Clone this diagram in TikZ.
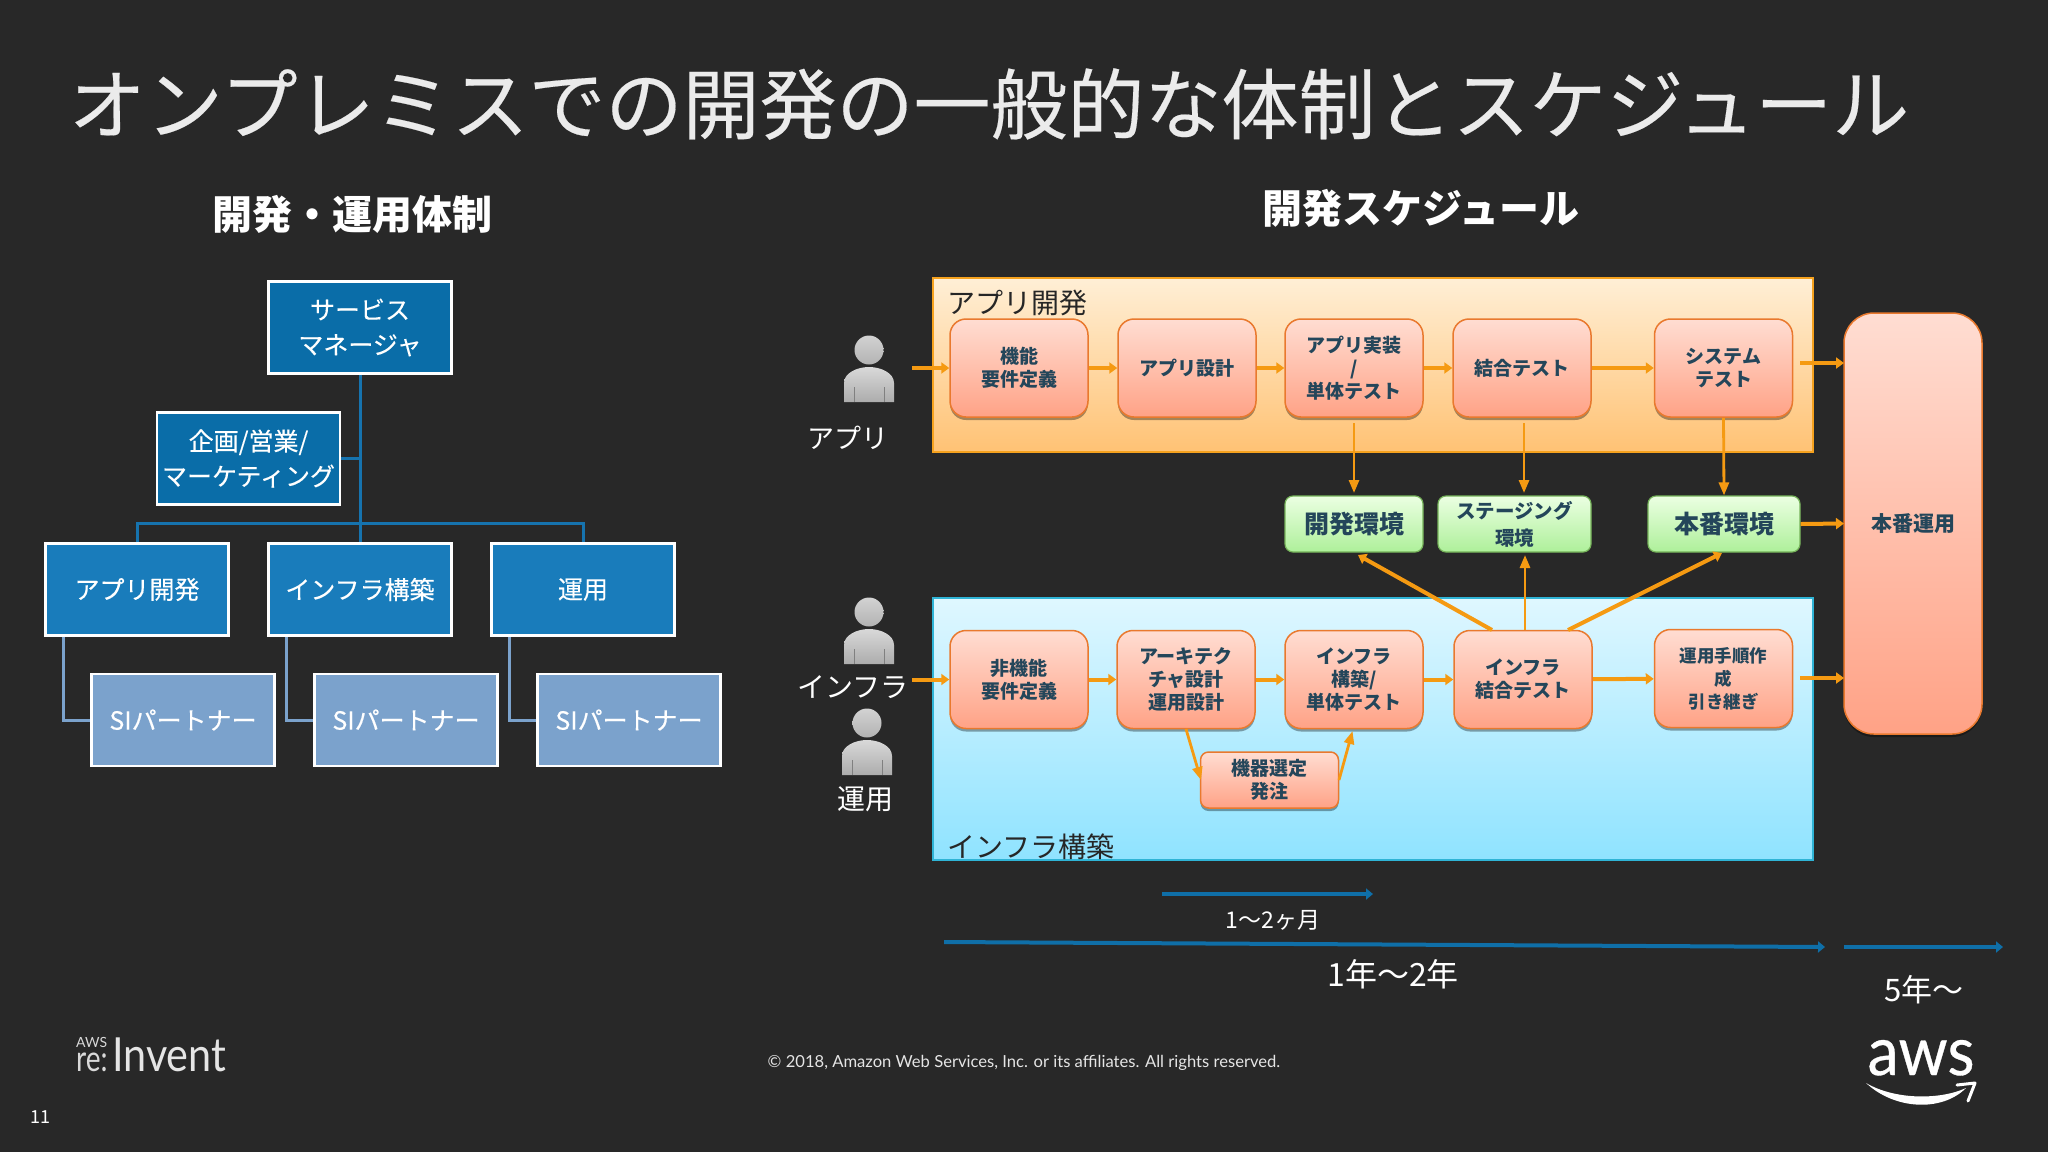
\documentclass[tikz,border=0pt]{standalone}
\usepackage{fontspec}
\usepackage{xcolor}
\setmainfont{Noto Sans CJK JP}
\newfontfamily\heavyfont[FakeBold=0.25]{Noto Sans CJK JP}
\newfontfamily\logofont{Lato}
\newfontfamily\logonarrow[FakeStretch=0.88]{Lato}
\newfontfamily\logoslim[FakeStretch=0.78]{Lato}
\newfontfamily\logoheavy[FakeStretch=0.92,FakeBold=0.5]{Lato}
\usetikzlibrary{arrows.meta,shadows}

\definecolor{slidebg}{HTML}{282828}
\definecolor{txtdark}{HTML}{24465A}
\definecolor{flow}{HTML}{F59A12}
\definecolor{timeblue}{HTML}{0F6FA8}
\definecolor{linkblue}{HTML}{1673AE}
\definecolor{linksi}{HTML}{7BA2CC}
\definecolor{orgtop}{HTML}{0A6DA8}
\definecolor{orgmid}{HTML}{197CBB}
\definecolor{stepline}{HTML}{E9792E}
\definecolor{steptop}{HTML}{FFDDD2}
\definecolor{stepend}{HTML}{FFA286}
\definecolor{appline}{HTML}{F6A21E}
\definecolor{apptop}{HTML}{FFEFD6}
\definecolor{append}{HTML}{FFC274}
\definecolor{infraline}{HTML}{2FB4D6}
\definecolor{infratop}{HTML}{DFF7FF}
\definecolor{infraend}{HTML}{8FE3FF}
\definecolor{envline}{HTML}{76B35A}
\definecolor{envtop}{HTML}{EBFFE2}
\definecolor{envend}{HTML}{AEF09A}

\tikzset{
	orgbox/.style={draw=white,line width=2.6pt,minimum width=183pt,minimum height=92pt,text=white,align=center,inner sep=0pt,font=\fontsize{25}{35}\selectfont\heavyfont},
	topbox/.style={orgbox,fill=#1},
	stepbox/.style={draw=stepline,line width=1.5pt,rounded corners=16pt,minimum width=138pt,minimum height=98pt,text=txtdark,align=center,inner sep=0pt,
		top color=steptop,bottom color=stepend,
		drop shadow={shadow xshift=0pt,shadow yshift=-3pt,fill=black,opacity=0.35},
		execute at begin node={\vspace*{4pt}},
		font=\fontsize{19}{23}\selectfont\bfseries},
	envbox/.style={draw=envline,line width=1.2pt,rounded corners=8pt,minimum height=56pt,text=txtdark,align=center,inner sep=0pt,
		top color=envtop,bottom color=envend,
		font=\fontsize{25}{30}\selectfont\bfseries},
	panel/.style 2 args={draw=#1,line width=1.5pt,minimum width=880pt,inner sep=0pt},
	thickflow/.style={draw=flow,line width=4pt,-{Triangle[length=8pt,width=11pt]}},
	thinflow/.style={draw=flow,line width=2.8pt,-{Triangle[length=13pt,width=10pt]}},
	timeline/.style={draw=timeblue,line width=4pt,-{Triangle[length=7pt,width=11pt]}},
	orglink/.style={draw=linkblue,line width=3pt},
	silink/.style={draw=linksi,line width=3pt},
	person/.pic={
		\shade[top color=gray!35!white,bottom color=gray!60!white] (0,15) circle[radius=14.5];
		\shade[top color=gray!30!white,bottom color=gray!65!white] (-25,67) -- (-25,48) .. controls (-25,38) and (-12,32) .. (0,32) .. controls (12,32) and (25,38) .. (25,48) -- (25,67) -- cycle;
		\draw[gray,line width=0.6pt] (-15,52) -- (-15,67);
		\draw[gray,line width=0.6pt] (15,52) -- (15,67);
	}
}

\begin{document}
\begin{tikzpicture}[x=1pt,y=-1pt]
	\useasboundingbox (0,0) rectangle (2048,1152);
	\fill[slidebg] (0,0) rectangle (2048,1152);

	% Headings
	\node[text=white!92!black,font=\fontsize{77}{80}\selectfont\heavyfont] (title) at (989,104) {オンプレミスでの開発の一般的な体制とスケジュール};
	\node[text=white,font=\fontsize{40}{44}\selectfont\bfseries] (orgtitle) at (352,214) {開発・運用体制};
	\node[text=white,font=\fontsize{40}{44}\selectfont\bfseries] (schedtitle) at (1421,208) {開発スケジュール};

	% Organisation chart
	\coordinate (bus) at (360,523);
	\coordinate (kink) at (360,458.5);
	\coordinate (siaup) at (63.5,637);
	\coordinate (sibup) at (286,637);
	\coordinate (sicup) at (509,637);
	\node[topbox=orgtop] (manager) at (360,327.5) {サービス\\マネージャ};
	\node[topbox=orgtop] (planning) at (248.5,458.5) {企画/営業/\\マーケティング};
	\node[topbox=orgmid] (appdev) at (137,589.5) {アプリ開発};
	\node[topbox=orgmid] (infra) at (360,589.5) {インフラ構築};
	\node[topbox=orgmid] (ops) at (583,589.5) {運用};
	\node[topbox=linksi] (sia) at (183,720) {SIパートナー};
	\node[topbox=linksi] (sib) at (406,720) {SIパートナー};
	\node[topbox=linksi] (sic) at (629,720) {SIパートナー};
	\path[orglink] (manager) -- (infra);
	\path[orglink] (planning.east) -- (kink);
	\path[orglink] (appdev.north) |- (bus) -| (ops.north);
	\path[silink] (siaup) |- (sia.west);
	\path[silink] (sibup) |- (sib.west);
	\path[silink] (sicup) |- (sic.west);

	% Schedule panels
	\node[panel={appline}{},top color=apptop,bottom color=append,minimum height=174pt] (apppanel) at (1373,365) {};
	\node[panel={infraline}{},top color=infratop,bottom color=infraend,minimum height=262pt] (infrapanel) at (1373,729) {};
	\node[anchor=west,text=black!85,font=\fontsize{28}{32}\selectfont] (applabel) at (944,303) {アプリ開発};
	\node[anchor=west,text=black!85,font=\fontsize{28}{32}\selectfont] (infralabel) at (944,847) {インフラ構築};

	% People
	\pic at (869,335) {person};
	\pic at (869,597) {person};
	\pic at (867,708) {person};
	\node[text=white,font=\fontsize{27}{30}\selectfont] (appman) at (848,438) {アプリ};
	\node[text=white,font=\fontsize{28}{30}\selectfont] (inframan) at (853,687) {インフラ};
	\node[text=white,font=\fontsize{28}{30}\selectfont] (opsman) at (865,799) {運用};

	% Application row
	\node[stepbox] (reqa) at (1019,368) {機能\\要件定義};
	\node[stepbox] (design) at (1187,368) {アプリ設計};
	\node[stepbox] (impl) at (1354,368) {アプリ実装\\/\\単体テスト};
	\node[stepbox] (joint) at (1522,368) {結合テスト};
	\node[stepbox] (system) at (1723.5,368) {システム\\テスト};

	% Infrastructure row
	\node[stepbox] (reqb) at (1019,679.5) {非機能\\要件定義};
	\node[stepbox] (arch) at (1186,679.5) {アーキテク\\チャ設計\\運用設計};
	\node[stepbox] (build) at (1354,679.5) {インフラ\\構築/\\単体テスト};
	\node[stepbox] (itest) at (1523,679.5) {インフラ\\結合テスト};
	\node[stepbox,font=\fontsize{17.5}{23}\selectfont\bfseries] (handover) at (1723.5,678.5) {運用手順作\\成\\引き継ぎ};
	\node[stepbox,minimum height=56pt,rounded corners=8pt] (device) at (1269.5,780) {機器選定\\発注};

	% Environments
	\node[envbox,minimum width=138pt] (devenv) at (1354,524) {開発環境};
	\node[envbox,minimum width=153pt,font=\fontsize{19.5}{27}\selectfont\bfseries] (stgenv) at (1514.5,524) {ステージング\\環境};
	\node[envbox,minimum width=152pt] (prodenv) at (1724,524) {本番環境};

	% Production
	\node[stepbox,minimum width=138pt,minimum height=421pt,rounded corners=30pt,font=\fontsize{21}{26}\selectfont\bfseries] (prod) at (1913,523.5) {本番運用};

	% Flow arrows
	\coordinate (appin) at (912,368);
	\coordinate (infrain) at (912,679.5);
	\coordinate (appout) at (1800,363);
	\coordinate (appoutend) at (1844,363);
	\coordinate (infraout) at (1800,678);
	\coordinate (infraoutend) at (1844,678);
	\coordinate (prodin) at (1844,523.5);
	\path[thickflow] (appin) -- (reqa);
	\path[thickflow] (reqa) -- (design);
	\path[thickflow] (design) -- (impl);
	\path[thickflow] (impl) -- (joint);
	\path[thickflow] (joint) -- (system);
	\path[thickflow] (appout) -- (appoutend);
	\path[thickflow] (infrain) -- (reqb);
	\path[thickflow] (reqb) -- (arch);
	\path[thickflow] (arch) -- (build);
	\path[thickflow] (build) -- (itest);
	\path[thickflow] (itest) -- (handover);
	\path[thickflow] (infraout) -- (infraoutend);
	\path[thickflow] (prodenv.east) -- (prodin);

	\coordinate (implout) at (1354,423);
	\coordinate (jointout) at (1524,423);
	\coordinate (jointend) at (1524,493);
	\coordinate (implend) at (1354,493);
	\coordinate (stgin) at (1525,555);
	\coordinate (itesttop) at (1525,630);
	\coordinate (devin) at (1358,555);
	\coordinate (itestleft) at (1492,630);
	\coordinate (prodenvin) at (1722,553);
	\coordinate (itestright) at (1568,630);
	\coordinate (archout) at (1186,729);
	\coordinate (devicein) at (1201,780);
	\coordinate (deviceout) at (1339,780);
	\coordinate (buildin) at (1352.5,731);
	\path[thinflow] (implout) -- (implend);
	\path[thinflow] (jointout) -- (jointend);
	\path[thinflow] (system.south) -- (prodenv.north);
	\path[thickflow] (itestleft) -- (devin);
	\path[thinflow] (itesttop) -- (stgin);
	\path[thickflow] (itestright) -- (prodenvin);
	\path[thinflow] (archout) -- (devicein);
	\path[thinflow] (deviceout) -- (buildin);

	% Time lines
	\coordinate (shortl) at (1162,894);
	\coordinate (shortr) at (1373,894);
	\coordinate (longl) at (944,942);
	\coordinate (longr) at (1825,947);
	\coordinate (prodl) at (1844,947);
	\coordinate (prodr) at (2003,947);
	\path[timeline] (shortl) -- (shortr);
	\path[timeline] (longl) -- (longr);
	\path[timeline] (prodl) -- (prodr);
	\node[text=white,font=\fontsize{23}{26}\selectfont] (shortlabel) at (1273,920) {1〜2ヶ月};
	\node[text=white,font=\fontsize{32}{36}\selectfont] (longlabel) at (1393,974) {1年〜2年};
	\node[text=white,font=\fontsize{31}{35}\selectfont] (prodlabel) at (1924,990) {5年〜};

	% Footer
	\node[text=white!90!black,font=\fontsize{16.6}{20}\selectfont] (copyright) at (1024,1063) {\logofont © 2018, Amazon Web Services, Inc. or its affiliates. All rights reserved.};
	\node[text=white,font=\fontsize{18}{20}\selectfont] (pageno) at (40,1117) {11};
	\node[anchor=base west,inner sep=0pt,text=white!85!black,font=\fontsize{14}{14}\selectfont\logofont] (logoaws) at (76,1047) {AWS};
	\node[anchor=base west,inner sep=0pt,text=white!85!black,font=\fontsize{36}{36}\selectfont\logoslim] (logore) at (76,1071) {re:};
	\node[anchor=base west,inner sep=0pt,text=white!90!black,font=\fontsize{47}{47}\selectfont\logonarrow] (logoinv) at (112,1071) {Invent};
	\node[anchor=base,inner sep=0pt,text=white,font=\fontsize{68}{68}\selectfont\logoheavy] (logoa) at (1921,1075) {aws};
	\fill[white] (1866,1083) .. controls (1895,1110) and (1942,1112) .. (1966,1088) .. controls (1940,1100) and (1895,1100) .. (1866,1083) -- cycle;
	\draw[white,line width=3pt,line cap=round,line join=round] (1957,1085) -- (1975,1083) -- (1968,1101);
\end{tikzpicture}
\end{document}
